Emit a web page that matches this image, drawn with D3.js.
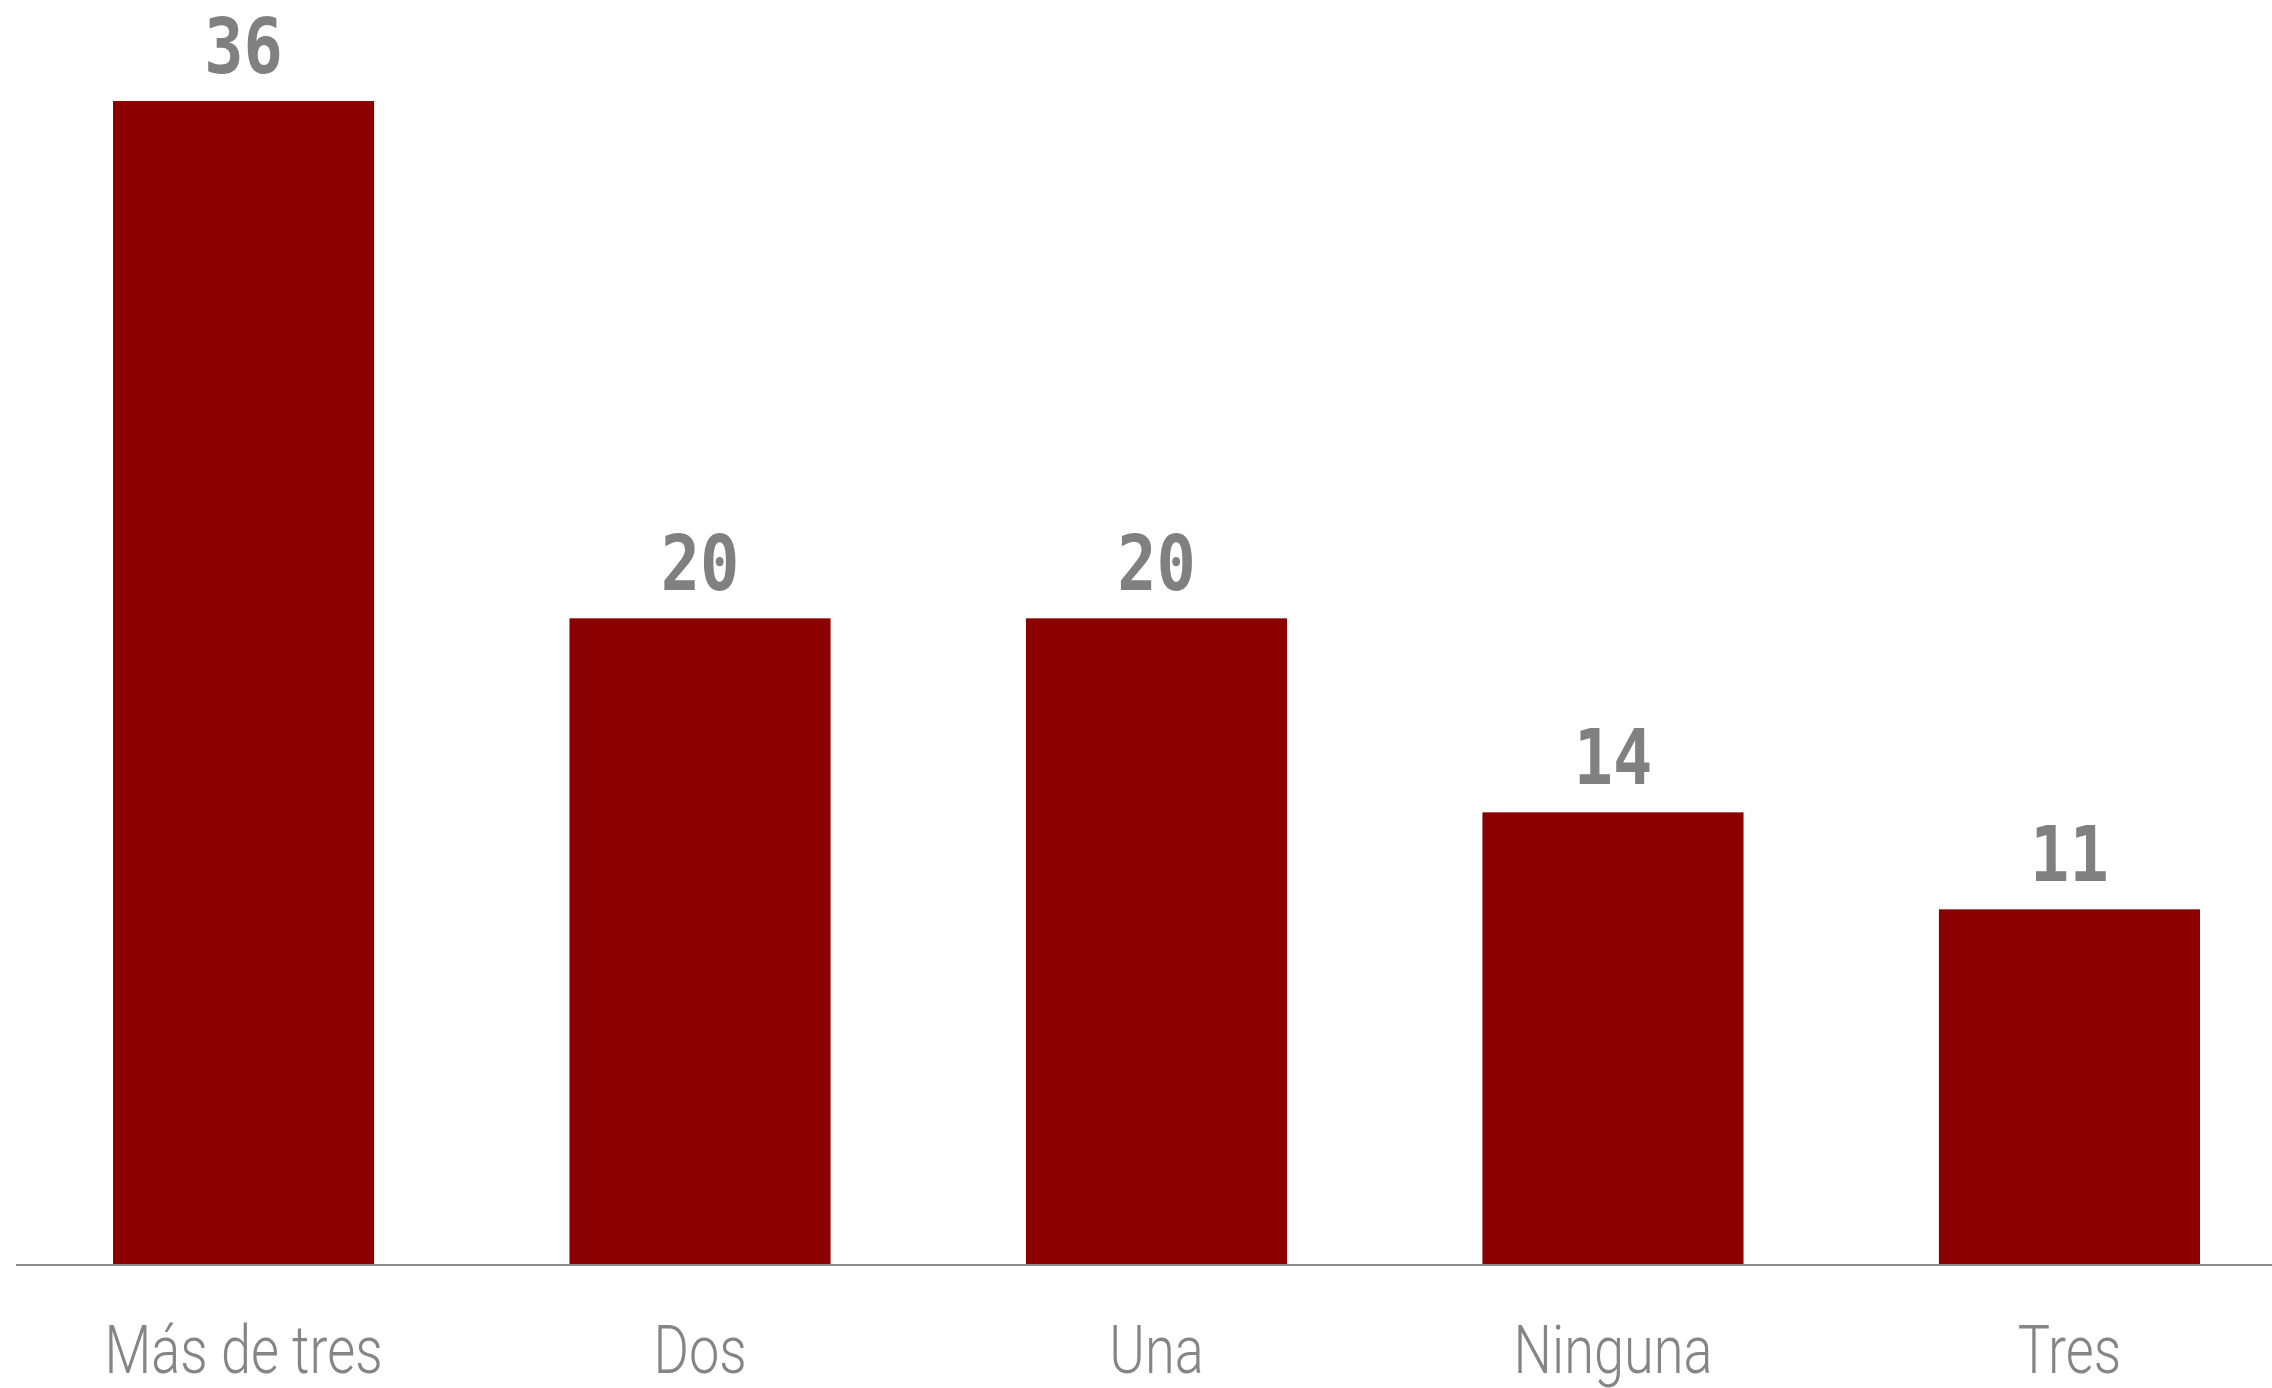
<!DOCTYPE html>
<html>
<head>
<meta charset="utf-8">
<script src="https://cdn.jsdelivr.net/npm/d3@7"></script>
<style>
  html, body { margin: 0; padding: 0; background: #ffffff; }
  svg { display: block; }
</style>
</head>
<body>
<svg id="chart" width="2272" height="1388"></svg>
<script>
// Number of responses per category
const categories = ["Más de tres", "Dos", "Una", "Ninguna", "Tres"];
const values = [36, 20, 20, 14, 11];

const width = 2272, height = 1388;
const baseline = 1265;

const svg = d3.select("#chart");

const x = d3.scaleBand()
  .domain(categories)
  .range([113, 2200])
  .paddingInner(0.428)
  .paddingOuter(0);

const y = d3.scaleLinear()
  .domain([0, 36])
  .range([baseline, 101]);

const data = categories.map((c, i) => ({ cat: c, val: values[i] }));

// Bars
svg.append("g")
  .selectAll("rect")
  .data(data)
  .join("rect")
  .attr("x", d => x(d.cat))
  .attr("y", d => y(d.val))
  .attr("width", x.bandwidth())
  .attr("height", d => y(0) - y(d.val))
  .attr("fill", "#8b0000");

// Baseline axis
const axis = svg.append("g")
  .attr("transform", `translate(0,${baseline})`)
  .call(d3.axisBottom(x).tickSize(0).tickPadding(0));
axis.select(".domain").remove();
axis.selectAll(".tick text").remove();
svg.append("line")
  .attr("x1", 16).attr("x2", width)
  .attr("y1", baseline).attr("y2", baseline)
  .attr("stroke", "#8c8c8c")
  .attr("stroke-width", 2);

// Category labels
axis.selectAll(".tick")
  .append("text")
  .attr("y", 108)
  .attr("text-anchor", "middle")
  .attr("fill", "#858585")
  .attr("transform", "scale(0.82,1)")
  .style("font-family", "Roboto, 'Open Sans', sans-serif")
  .style("font-weight", 300)
  .style("font-size", "66px")
  .text(d => d);

// Value labels above the bars
svg.append("g")
  .selectAll("g")
  .data(data)
  .join("g")
  .attr("transform", d => `translate(${x(d.cat) + x.bandwidth() / 2},${y(d.val) - 28}) scale(0.86,1)`)
  .append("text")
  .attr("text-anchor", "middle")
  .attr("fill", "#808080")
  .style("font-family", "'DejaVu Sans Mono', monospace")
  .style("font-weight", 700)
  .style("font-size", "76px")
  .text(d => d.val);
</script>
</body>
</html>
